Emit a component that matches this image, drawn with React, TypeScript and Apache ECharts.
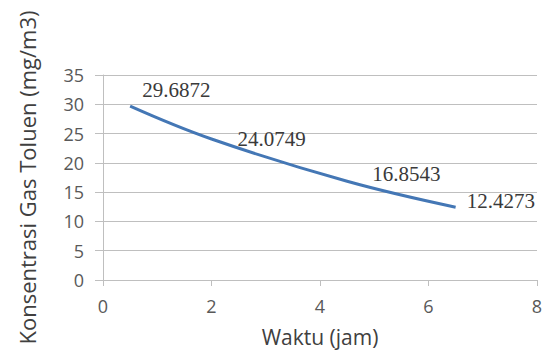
import React, { useEffect, useRef } from "react";
import * as echarts from "echarts";

// Toluene gas concentration over time
const hours = [0.5, 2, 4.5, 6.5];
const concentration = [29.6872, 24.0749, 16.8543, 12.4273];

const xTicks = { min: 0, max: 8, interval: 2 };
const yTicks = { min: 0, max: 35, interval: 5 };

// hand-placed nudges for the value labels, [dx, dy] in px from each point
const labelNudges: [number, number][] = [
  [12, -16],
  [26, 0],
  [25, -7],
  [11, -6],
];

const SANS = "'Open Sans', Lato, sans-serif";
const SERIF = "'Liberation Serif', 'DejaVu Serif', serif";

export default function App() {
  const ref = useRef<HTMLDivElement>(null);

  useEffect(() => {
    if (!ref.current) return;
    const chart = echarts.init(ref.current, undefined, { renderer: "svg" });

    const data = hours.map((h, i) => ({
      value: [h, concentration[i]],
      label: { offset: labelNudges[i] },
    }));

    chart.setOption({
      animation: false,
      backgroundColor: "#ffffff",
      grid: { left: 103, right: 11, top: 75, bottom: 78, containLabel: false },
      xAxis: {
        type: "value",
        min: xTicks.min,
        max: xTicks.max,
        interval: xTicks.interval,
        name: "Waktu (jam)",
        nameLocation: "middle",
        nameGap: 46,
        nameTextStyle: { fontFamily: SANS, fontSize: 21, color: "#404040" },
        axisLine: { show: true, lineStyle: { color: "#BFBFBF", width: 1 } },
        axisTick: { show: true, inside: false, length: 6, lineStyle: { color: "#BFBFBF" } },
        axisLabel: { margin: 17, fontFamily: SANS, fontSize: 18, color: "#595959" },
        splitLine: { show: false },
      },
      yAxis: {
        type: "value",
        min: yTicks.min,
        max: yTicks.max,
        interval: yTicks.interval,
        name: "Konsentrasi Gas Toluen (mg/m3)",
        nameLocation: "middle",
        nameRotate: 90,
        nameGap: 65,
        nameTextStyle: { fontFamily: SANS, fontSize: 22, color: "#404040" },
        axisLine: { show: true, lineStyle: { color: "#BFBFBF", width: 1 } },
        axisTick: { show: true, inside: false, length: 8, lineStyle: { color: "#BFBFBF" } },
        axisLabel: { margin: 19, fontFamily: SANS, fontSize: 18, color: "#595959" },
        splitLine: { show: true, lineStyle: { color: "#BFBFBF", width: 1 } },
      },
      series: [
        {
          type: "line",
          data,
          smooth: 0.4,
          showSymbol: true,
          symbol: "circle",
          symbolSize: 0,
          lineStyle: { color: "#4477B5", width: 3 },
          itemStyle: { color: "#4477B5" },
          label: {
            show: true,
            position: "inside",
            align: "left",
            verticalAlign: "middle",
            fontFamily: SERIF,
            fontSize: 21,
            color: "#3A3A3A",
            formatter: (p: any) => String(p.value[1]),
          },
        },
      ],
    });

    return () => chart.dispose();
  }, []);

  return (
    <div
      ref={ref}
      style={{ position: "fixed", left: 0, top: 0, width: 548, height: 358 }}
    />
  );
}
